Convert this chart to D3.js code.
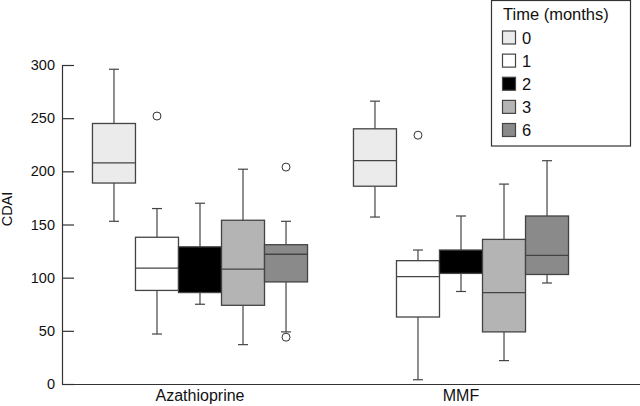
<!DOCTYPE html>
<html><head><meta charset="utf-8">
<script src="https://cdn.jsdelivr.net/npm/d3@7/dist/d3.min.js"></script>
<style>body{margin:0;background:#fff}text{font-family:"Liberation Sans",Arial,sans-serif}</style>
</head><body><svg id="c" width="640" height="406"></svg>
<script>
const groups = ["Azathioprine", "MMF"];
const times = ["0", "1", "2", "3", "6"];
const fills = ["#ebebeb", "#ffffff", "#000000", "#b4b4b4", "#8a8a8a"];
// [whiskerLow, Q1, median, Q3, whiskerHigh]
const azaStats = [
  [153, 189, 208, 245, 296],
  [47, 88, 109, 138, 165],
  [75, 86, 110, 129, 170],
  [37, 74, 108, 154, 202],
  [49, 96, 122, 131, 153]
];
const mmfStats = [
  [157, 186, 210, 240, 266],
  [4, 63, 101, 116, 126],
  [87, 104, 115, 126, 158],
  [22, 49, 86, 136, 188],
  [95, 103, 121, 158, 210]
];
const azaOutliers = [[], [252], [], [], [204, 44]];
const mmfOutliers = [[], [234], [], [], []];
const yTicks = [0, 50, 100, 150, 200, 250, 300];

const svg = d3.select("#c");
const y = d3.scaleLinear().domain([0, 300]).range([384, 65]);
const x0 = d3.scaleBand().domain(groups).range([69.5, 591.5]).paddingInner(0.176).paddingOuter(0.088);
const x1 = d3.scaleBand().domain(times).range([0, x0.bandwidth()]).padding(0);
const color = d3.scaleOrdinal().domain(times).range(fills);

const statsByGroup = {"Azathioprine": azaStats, "MMF": mmfStats};
const outByGroup = {"Azathioprine": azaOutliers, "MMF": mmfOutliers};

// axes
const yAxis = svg.append("g").attr("transform", "translate(62,0)")
  .call(d3.axisLeft(y).tickValues(yTicks).tickSizeInner(-12).tickSizeOuter(0).tickPadding(7));
yAxis.select(".domain").attr("stroke", "#333").attr("stroke-width", 1.2);
yAxis.selectAll(".tick line").attr("stroke", "#333").attr("stroke-width", 1.2);
yAxis.selectAll(".tick text").attr("font-size", 14.5).attr("fill", "#111");

const xAxis = svg.append("g").attr("transform", "translate(0,384)")
  .call(d3.axisBottom(x0).tickSize(0).tickPadding(6));
xAxis.select(".domain").attr("d", "M62,0.5H640").attr("stroke", "#333").attr("stroke-width", 1.2);
xAxis.selectAll(".tick text").attr("font-size", 16).attr("fill", "#111");

svg.append("text").attr("transform", "translate(12,209) rotate(-90)")
  .attr("text-anchor", "middle").attr("font-size", 14.5).attr("fill", "#111").text("CDAI");

// boxes
groups.forEach(g => {
  const gx = x0(g);
  statsByGroup[g].forEach((s, i) => {
    const t = times[i];
    const bx = gx + x1(t), bw = x1.bandwidth(), cx = bx + bw / 2;
    const grp = svg.append("g");
    const stroke = "#444";
    grp.append("line").attr("x1", cx).attr("x2", cx).attr("y1", y(s[3])).attr("y2", y(s[4])).attr("stroke", stroke).attr("stroke-width", 1.2);
    grp.append("line").attr("x1", cx).attr("x2", cx).attr("y1", y(s[1])).attr("y2", y(s[0])).attr("stroke", stroke).attr("stroke-width", 1.2);
    grp.append("line").attr("x1", cx - 5).attr("x2", cx + 5).attr("y1", y(s[4])).attr("y2", y(s[4])).attr("stroke", stroke).attr("stroke-width", 1.2);
    grp.append("line").attr("x1", cx - 5).attr("x2", cx + 5).attr("y1", y(s[0])).attr("y2", y(s[0])).attr("stroke", stroke).attr("stroke-width", 1.2);
    grp.append("rect").attr("x", bx).attr("y", y(s[3])).attr("width", bw).attr("height", y(s[1]) - y(s[3]))
      .attr("fill", color(t)).attr("stroke", stroke).attr("stroke-width", 1.3);
    grp.append("line").attr("x1", bx).attr("x2", bx + bw).attr("y1", y(s[2])).attr("y2", y(s[2]))
      .attr("stroke", t === "2" ? "#000" : stroke).attr("stroke-width", 1.3);
    outByGroup[g][i].forEach(o => {
      grp.append("circle").attr("cx", cx).attr("cy", y(o)).attr("r", 4).attr("fill", "#fff").attr("stroke", "#333").attr("stroke-width", 1);
    });
  });
});

// legend
const leg = svg.append("g");
leg.append("rect").attr("x", 491.5).attr("y", 0.5).attr("width", 139).attr("height", 145.5)
  .attr("fill", "#fff").attr("stroke", "#333").attr("stroke-width", 1.2);
leg.append("text").attr("x", 503).attr("y", 20).attr("font-size", 16.5).attr("fill", "#111").text("Time (months)");
const ly = d3.scalePoint().domain(times).range([37.5, 130]);
times.forEach(t => {
  leg.append("rect").attr("x", 502.5).attr("y", ly(t) - 6.5).attr("width", 13).attr("height", 13)
    .attr("fill", color(t)).attr("stroke", "#444").attr("stroke-width", 1.2);
  leg.append("text").attr("x", 522).attr("y", ly(t) + 6).attr("font-size", 16.5).attr("fill", "#111").text(t);
});
</script></body></html>
